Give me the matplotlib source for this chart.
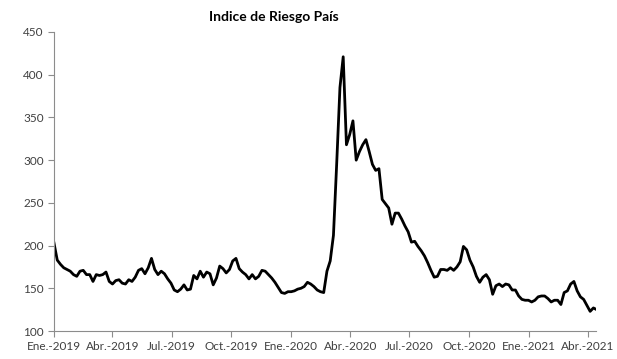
import matplotlib
matplotlib.use("Agg")
import matplotlib.pyplot as plt
import pandas as pd

# valores, uno cada 5 dias desde el 1-ene-2019
riesgo = [203, 183, 178, 174, 172, 170, 166, 164, 170, 171,
          166, 166, 158, 166, 165, 166, 169, 158, 155, 159,
          160, 156, 155, 160, 158, 163, 171, 173, 167, 174,
          185, 172, 166, 170, 167, 161, 156, 148, 146, 149,
          154, 148, 149, 165, 161, 170, 163, 169, 167, 154,
          162, 176, 173, 168, 172, 182, 185, 173, 169, 166,
          161, 166, 161, 164, 171, 170, 166, 162, 157, 151,
          145, 144, 146, 146, 147, 149, 150, 152, 157, 155,
          152, 148, 146, 145, 170, 182, 212, 296, 385, 421,
          318, 330, 346, 300, 310, 318, 324, 310, 295, 288,
          290, 254, 249, 244, 225, 238, 238, 231, 223, 216,
          204, 205, 199, 194, 188, 180, 171, 163, 164, 172,
          172, 171, 174, 171, 175, 181, 199, 195, 183, 175,
          164, 157, 163, 166, 160, 143, 153, 155, 152, 155,
          154, 148, 148, 141, 137, 136, 136, 134, 136, 140,
          141, 141, 138, 134, 136, 136, 131, 145, 147, 155,
          158, 147, 140, 137, 130, 123, 127, 125]
fechas = pd.date_range("2019-01-01", periods=len(riesgo), freq="5D")

ticks = pd.to_datetime(["2019-01-01", "2019-04-01", "2019-07-01", "2019-10-01",
                        "2020-01-01", "2020-04-01", "2020-07-01", "2020-10-01",
                        "2021-01-01", "2021-04-01"])
etiquetas = ["Ene.-2019", "Abr.-2019", "Jul.-2019", "Oct.-2019", "Ene.-2020",
             "Abr.-2020", "Jul.-2020", "Oct.-2020", "Ene.-2021", "Abr.-2021"]

plt.rcParams['font.family'] = ['Lato', 'DejaVu Sans']

fig = plt.figure(figsize=(6.17, 3.59), dpi=100)
ax = fig.add_axes([54/617, 1-331/359, 542/617, 299/359])

ax.plot(fechas, riesgo, color='black', linewidth=2.0)

ax.set_ylim(100, 450)
ax.set_yticks(range(100, 451, 50))
ax.set_xlim(pd.Timestamp("2019-01-01"), pd.Timestamp("2021-04-14"))
ax.set_xticks(ticks)
ax.set_xticklabels(etiquetas)

for s in ['top', 'right']:
    ax.spines[s].set_visible(False)
for s in ['left', 'bottom']:
    ax.spines[s].set_color('#8c8c8c')
ax.tick_params(colors='#8c8c8c', labelcolor='#404040', labelsize=8.5, length=4)

fig.text(274/617, 1-17/359, "Indice de Riesgo País", ha='center', va='center',
         fontsize=10, fontweight='bold')

fig.savefig("out.png", dpi=100)
